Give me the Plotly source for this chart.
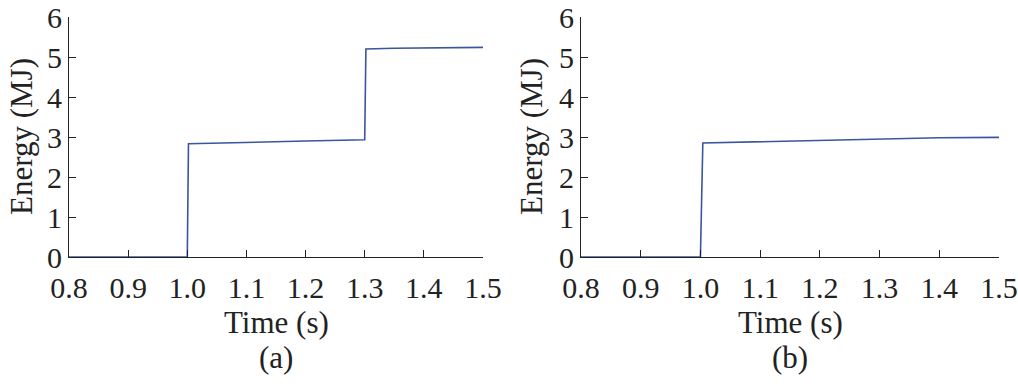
import plotly.graph_objects as go

# Data
time_a = [0.8, 1.0, 1.002, 1.1, 1.2, 1.3, 1.302, 1.35, 1.4, 1.5]
energy_a = [0.0, 0.0, 2.83, 2.87, 2.90, 2.93, 5.20, 5.22, 5.23, 5.24]

time_b = [0.8, 1.0, 1.004, 1.1, 1.2, 1.3, 1.4, 1.5]
energy_b = [0.0, 0.0, 2.85, 2.88, 2.91, 2.95, 2.98, 2.99]

x_ticks = [0.8, 0.9, 1.0, 1.1, 1.2, 1.3, 1.4, 1.5]
x_tick_labels = ["0.8", "0.9", "1.0", "1.1", "1.2", "1.3", "1.4", "1.5"]
y_ticks = [0, 1, 2, 3, 4, 5, 6]

line_color = "#3b569c"
font_family = "Liberation Serif"

fig = go.Figure()
fig.add_trace(go.Scatter(x=time_a, y=energy_a, mode="lines",
                         line=dict(color=line_color, width=1.6),
                         xaxis="x", yaxis="y", showlegend=False))
fig.add_trace(go.Scatter(x=time_b, y=energy_b, mode="lines",
                         line=dict(color=line_color, width=1.6),
                         xaxis="x2", yaxis="y2", showlegend=False))

W, H = 1018, 388


def px(p):
    return p / W


def py(p):
    return (H - p) / H


ydom = [py(257), py(17)]
axis_common = dict(showgrid=False, zeroline=False, showline=True,
                   linecolor="#222222", linewidth=1.2, ticks="inside",
                   ticklen=7, tickwidth=1.2, tickcolor="#222222", automargin=False,
                   ticklabeloverflow="allow",
                   tickfont=dict(family=font_family, size=30, color="#222222"))
x_extra = dict(ticklabelstandoff=4)

fig.update_layout(
    width=W, height=H,
    margin=dict(l=0, r=0, t=0, b=0),
    paper_bgcolor="white", plot_bgcolor="white",
    xaxis=dict(domain=[px(69), px(483)], range=[0.8, 1.5],
               tickvals=x_ticks, ticktext=x_tick_labels, anchor="y",
               **axis_common, **x_extra),
    yaxis=dict(domain=ydom, range=[0, 6], tickvals=y_ticks, anchor="x", **axis_common),
    xaxis2=dict(domain=[px(581), px(999)], range=[0.8, 1.5],
                tickvals=x_ticks, ticktext=x_tick_labels, anchor="y2",
                **axis_common, **x_extra),
    yaxis2=dict(domain=ydom, range=[0, 6], tickvals=y_ticks, anchor="x2", **axis_common),
)

ann_font = dict(family=font_family, size=31, color="#222222")
for cx, lab, ylabx in [((69 + 483) / 2, "(a)", 21), ((581 + 999) / 2, "(b)", 531)]:
    fig.add_annotation(x=px(cx), y=py(322), xref="paper", yref="paper",
                       text="Time (s)", showarrow=False, font=ann_font,
                       xanchor="center", yanchor="middle")
    fig.add_annotation(x=px(cx), y=py(357), xref="paper", yref="paper",
                       text=lab, showarrow=False, font=ann_font,
                       xanchor="center", yanchor="middle")
    fig.add_annotation(x=px(ylabx), y=py(137), xref="paper", yref="paper",
                       text="Energy (MJ)", showarrow=False, font=ann_font,
                       textangle=-90, xanchor="center", yanchor="middle")

fig.write_html("out.html", config={"displayModeBar": False},
               post_script="document.body.style.margin='0';document.body.style.overflow='hidden';")
